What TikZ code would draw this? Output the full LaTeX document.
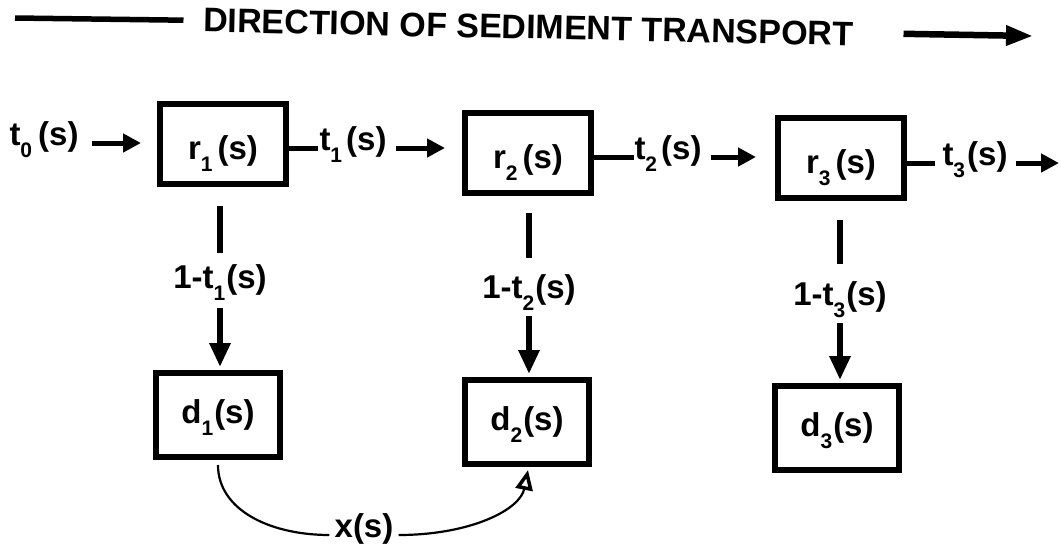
\documentclass[tikz,border=0pt]{standalone}
\usepackage{fontspec}
\setmainfont{Liberation Sans}
\usetikzlibrary{arrows.meta}
\newcommand\sub[1]{\smash{\raisebox{-12pt}{\fontsize{21}{21}\selectfont #1}}}
\newcommand\lowered[1]{\raisebox{-7pt}[\height][\depth]{#1}}
\tikzset{
  box/.style={draw, line width=6pt, minimum width=126pt, minimum height=80pt, inner sep=0pt, font=\fontsize{33}{33}\selectfont\bfseries},
  dbox/.style={box, minimum width=124pt, minimum height=84pt},
  lab/.style={inner sep=0pt, font=\fontsize{33}{33}\selectfont\bfseries},
  hdrtext/.style={inner sep=0pt, font=\fontsize{34}{34}\selectfont\bfseries},
  hline/.style={line width=5pt},
  harrow/.style={line width=5pt, -{Triangle[length=18pt,width=18pt]}},
  toparrow/.style={line width=6.5pt, -{Triangle[length=27pt,width=19pt]}},
  vline/.style={line width=6pt},
  varrow/.style={line width=6pt, -{Triangle[length=24pt,width=20pt]}},
  curveline/.style={line width=2.2pt},
  curvearrow/.style={line width=2.2pt, -{Triangle[open,length=20pt,width=17pt,line width=3.5pt]}},
}
\begin{document}
\begin{tikzpicture}[x=1pt,y=-1pt]
\useasboundingbox (0,0) rectangle (1061,550);
\fill[white] (0,0) rectangle (1061,550);

% header
\node[hdrtext, rotate=-1.2] (hdr) at (528.5,27) {DIRECTION OF SEDIMENT TRANSPORT};
\coordinate (hl) at (15,18);
\coordinate (ha) at (1033,36);
\draw[line width=5.5pt] (hl) -- ([xshift=-20pt]hdr.west);
\draw[toparrow] ([xshift=50pt]hdr.east) -- (ha);

% upper boxes
\node[box] (r1) at (223,144) {\lowered{r\sub{1}\kern5pt(s)}};
\node[box] (r2) at (528,153) {\lowered{r\sub{2}\kern5pt(s)}};
\node[box] (r3) at (841,158) {\lowered{r\sub{3}\kern5pt(s)}};

% lower boxes
\node[dbox] (d1) at (218,415) {d\sub{1}\kern1pt(s)};
\node[dbox] (d2) at (527,422) {d\sub{2}\kern1pt(s)};
\node[dbox] (d3) at (837,428) {d\sub{3}\kern1pt(s)};

% horizontal labels
\node[lab, anchor=mid] (t0) at (44,143) {t\sub{0}\kern6pt(s)};
\node[lab, anchor=mid] (t1) at (353,148) {t\sub{1}\kern4pt(s)};
\node[lab, anchor=mid] (t2) at (668,157) {t\sub{2}\kern4pt(s)};
\node[lab, anchor=mid] (t3) at (975,163) {t\sub{3}\kern2pt(s)};
\coordinate (out) at (1059,163);

\draw[harrow] ([xshift=13pt]t0.mid east) -- ([xshift=-16pt]r1.west |- t0.mid);
\draw[hline] (r1.east |- t1.mid) -- ([xshift=-1pt]t1.mid west);
\draw[harrow] ([xshift=9pt]t1.mid east) -- ([xshift=-17pt]r2.west |- t1.mid);
\draw[hline] (r2.east |- t2.mid) -- ([xshift=0pt]t2.mid west);
\draw[harrow] ([xshift=9pt]t2.mid east) -- ([xshift=-19pt]r3.west |- t2.mid);
\draw[hline] (r3.east |- t3.mid) -- ([xshift=-7pt]t3.mid west);
\draw[harrow] ([xshift=8pt]t3.mid east) -- (out);

% vertical labels
\node[lab, anchor=base] (v1) at (220,288) {1-t\sub{1}\kern1pt(s)};
\node[lab, anchor=base] (v2) at (529,298) {1-t\sub{2}\kern1pt(s)};
\node[lab, anchor=base] (v3) at (840,305) {1-t\sub{3}\kern1pt(s)};

\draw[vline] ([xshift=-3pt,yshift=-19pt]r1.south) -- ([yshift=11pt]v1.north);
\draw[varrow] ([yshift=-13pt]v1.south) -- ([yshift=3pt]v1.south |- d1.north);
\draw[vline] ([xshift=1pt,yshift=-17pt]r2.south) -- ([yshift=16pt]v2.north);
\draw[varrow] ([yshift=-11pt]v2.south) -- ([yshift=3pt]v2.south |- d2.north);
\draw[vline] ([xshift=-1pt,yshift=-19pt]r3.south) -- ([yshift=17pt]v3.north);
\draw[varrow] ([yshift=-11pt]v3.south) -- ([yshift=3pt]v3.south |- d3.north);

% transfer curve
\node[lab, anchor=mid] (xs) at (364,535) {x(s)};
\draw[curveline] ([yshift=-5pt]d1.south) .. controls (218,510) and (270,535) .. ([xshift=-5pt]xs.mid west);
\draw[curvearrow] ([xshift=5pt]xs.mid east) .. controls (470,535) and (520,510) .. ([xshift=1pt,yshift=-3pt]d2.south);
\end{tikzpicture}
\end{document}
